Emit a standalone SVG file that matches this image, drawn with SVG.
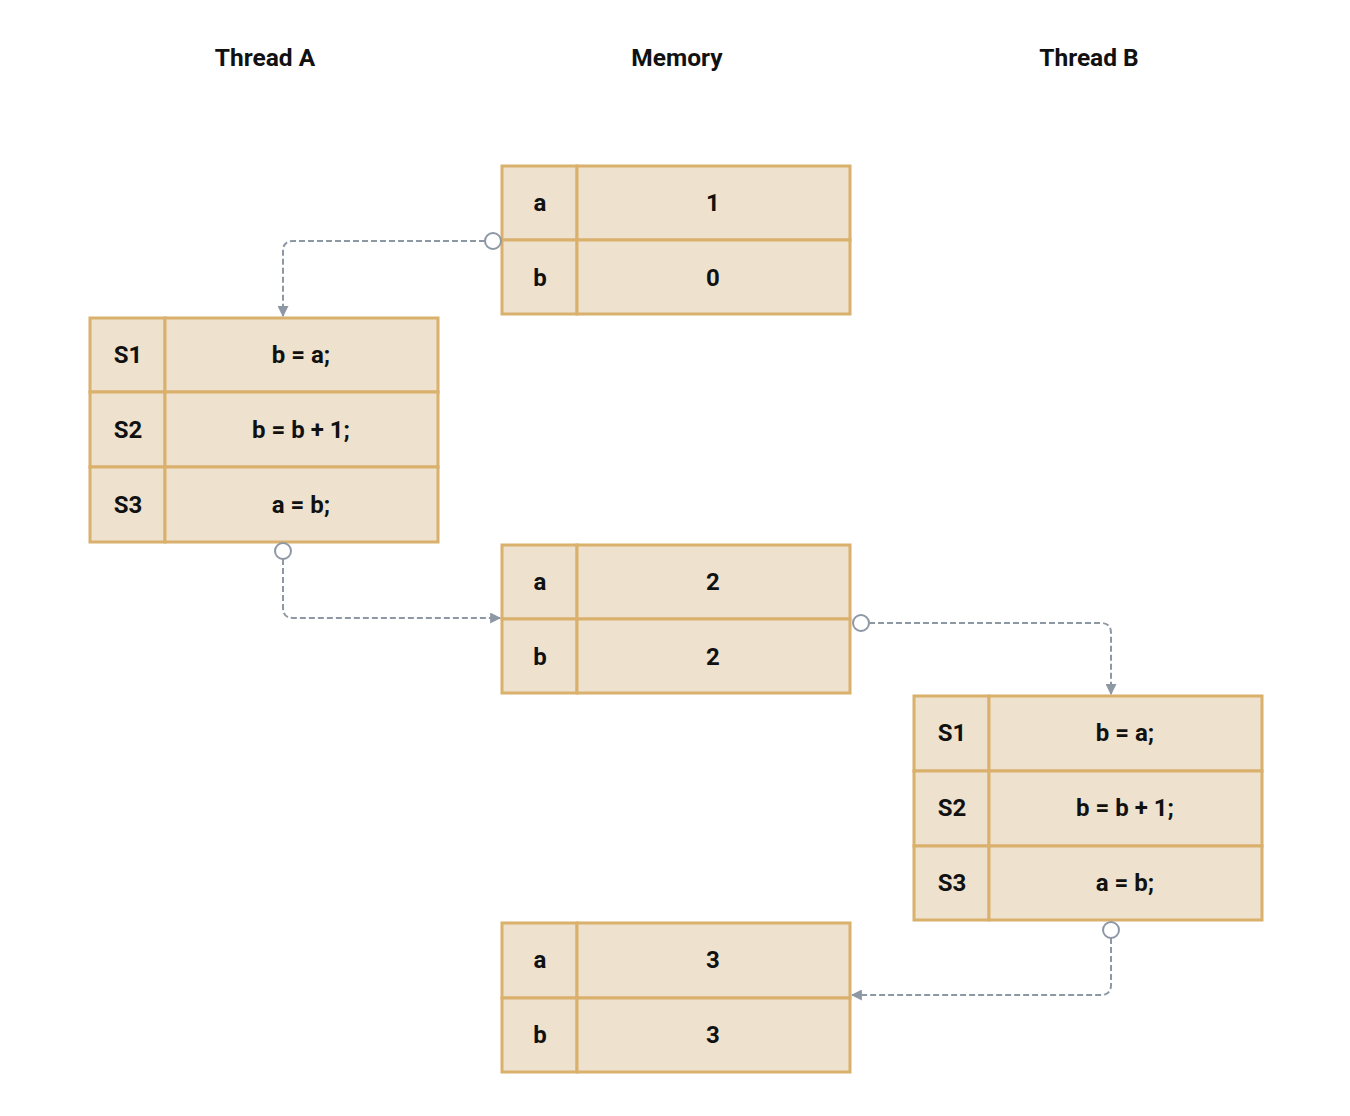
<svg xmlns="http://www.w3.org/2000/svg" width="1350" height="1116" viewBox="0 0 1350 1116">
<style>
.cell{fill:#EEE2CE;stroke:#D9B06C;stroke-width:3}
.t{font-family:Roboto,"Liberation Sans",sans-serif;font-weight:bold;font-size:24px;fill:#111;text-anchor:middle;dominant-baseline:central}
.h{font-family:Roboto,"Liberation Sans",sans-serif;font-weight:bold;font-size:24.5px;fill:#111;text-anchor:middle;dominant-baseline:central}
.c{fill:none;stroke:#8E98A5;stroke-width:2;stroke-dasharray:6 3}
.dot{fill:#fff;stroke:#8E98A5;stroke-width:2}
</style>
<defs>
<marker id="arr" viewBox="0 0 10 10" refX="9" refY="5" markerWidth="11" markerHeight="11" markerUnits="userSpaceOnUse" orient="auto">
<path d="M0,0 L10,5 L0,10 z" fill="#8E98A5"/>
</marker>
</defs>
<rect width="1350" height="1116" fill="#fff"/>
<g id="headers">
<text class="h" x="265" y="57">Thread A</text>
<text class="h" x="677" y="57">Memory</text>
<text class="h" x="1089" y="57">Thread B</text>
</g>
<g id="mem1">
<rect class="cell" x="502" y="166" width="75" height="74"/>
<rect class="cell" x="577" y="166" width="273" height="74"/>
<rect class="cell" x="502" y="240" width="75" height="74"/>
<rect class="cell" x="577" y="240" width="273" height="74"/>
<text class="t" x="540" y="203">a</text><text class="t" x="713" y="203">1</text>
<text class="t" x="540" y="278">b</text><text class="t" x="713" y="278">0</text>
</g>
<g id="threadA">
<rect class="cell" x="90" y="318" width="75" height="74"/>
<rect class="cell" x="165" y="318" width="273" height="74"/>
<rect class="cell" x="90" y="392" width="75" height="75"/>
<rect class="cell" x="165" y="392" width="273" height="75"/>
<rect class="cell" x="90" y="467" width="75" height="75"/>
<rect class="cell" x="165" y="467" width="273" height="75"/>
<text class="t" x="128" y="355">S1</text><text class="t" x="301" y="355">b = a;</text>
<text class="t" x="128" y="430">S2</text><text class="t" x="301" y="430">b = b + 1;</text>
<text class="t" x="128" y="505">S3</text><text class="t" x="301" y="505">a = b;</text>
</g>
<g id="mem2">
<rect class="cell" x="502" y="545" width="75" height="74"/>
<rect class="cell" x="577" y="545" width="273" height="74"/>
<rect class="cell" x="502" y="619" width="75" height="74"/>
<rect class="cell" x="577" y="619" width="273" height="74"/>
<text class="t" x="540" y="582">a</text><text class="t" x="713" y="582">2</text>
<text class="t" x="540" y="657">b</text><text class="t" x="713" y="657">2</text>
</g>
<g id="threadB">
<rect class="cell" x="914" y="696" width="75" height="75"/>
<rect class="cell" x="989" y="696" width="273" height="75"/>
<rect class="cell" x="914" y="771" width="75" height="75"/>
<rect class="cell" x="989" y="771" width="273" height="75"/>
<rect class="cell" x="914" y="846" width="75" height="74"/>
<rect class="cell" x="989" y="846" width="273" height="74"/>
<text class="t" x="952" y="733">S1</text><text class="t" x="1125" y="733">b = a;</text>
<text class="t" x="952" y="808">S2</text><text class="t" x="1125" y="808">b = b + 1;</text>
<text class="t" x="952" y="883">S3</text><text class="t" x="1125" y="883">a = b;</text>
</g>
<g id="mem3">
<rect class="cell" x="502" y="923" width="75" height="75"/>
<rect class="cell" x="577" y="923" width="273" height="75"/>
<rect class="cell" x="502" y="998" width="75" height="74"/>
<rect class="cell" x="577" y="998" width="273" height="74"/>
<text class="t" x="540" y="960">a</text><text class="t" x="713" y="960">3</text>
<text class="t" x="540" y="1035">b</text><text class="t" x="713" y="1035">3</text>
</g>
<g id="connectors">
<path class="c" d="M485,241 H293 Q283,241 283,251 V316" marker-end="url(#arr)"/>
<circle class="dot" cx="493" cy="241" r="8"/>
<path class="c" d="M283,559 V608 Q283,618 293,618 H500" marker-end="url(#arr)"/>
<circle class="dot" cx="283" cy="551" r="8"/>
<path class="c" d="M869,623 H1101 Q1111,623 1111,633 V694" marker-end="url(#arr)"/>
<circle class="dot" cx="861" cy="623" r="8"/>
<path class="c" d="M1111,938 V985 Q1111,995 1101,995 H852" marker-end="url(#arr)"/>
<circle class="dot" cx="1111" cy="930" r="8"/>
</g>
</svg>
